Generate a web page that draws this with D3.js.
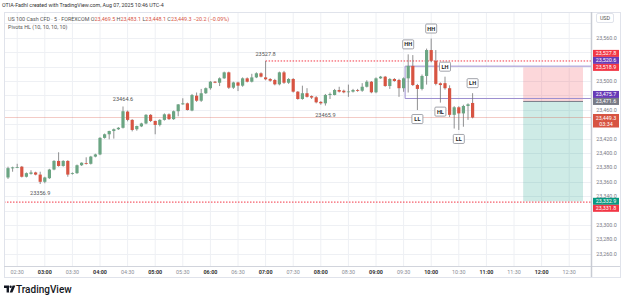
<!DOCTYPE html>
<html><head><meta charset="utf-8">
<script src="https://cdn.jsdelivr.net/npm/d3@7"></script>
<style>html,body{margin:0;padding:0;background:#fff;}svg{display:block;font-family:Roboto,"Liberation Sans",sans-serif;}</style>
</head><body><svg id="c" width="625" height="304"></svg>
<script>
// ---------- DATA ----------
const startTime = "2025-08-07T02:20:00Z"; // first bar (5-minute bars)
const opens = [23366,23378.7,23380,23381,23367,23371,23373,23370,23360,23365,23377,23389,23382,23389,23371,23372,23383,23386,23385,23395,
23398,23421,23426,23430.5,23433,23435,23457.5,23446,23433,23437,23441,23453,23444.5,23439,23446,23453.7,23447,23458,23467.6,23469,
23459,23479.6,23472.6,23483,23490,23499,23497.6,23503.7,23512,23490.7,23498,23493.5,23503.7,23499,23505,23510.7,23505,23502.8,23501.4,23495.4,
23512,23497.6,23502.8,23485.2,23475,23483,23479,23477.4,23471,23469,23480.6,23480.6,23487.5,23486.5,23485,23485.2,23487.5,23486.5,23492,23499,
23484.3,23503.7,23506,23493,23502.8,23501.4,23490,23503.7,23521,23494.4,23489,23507,23543,23528,23496.8,23497,23490,23453,23463.5,23455,
23465.3,23469.5];
const highs = [23381,23381,23385,23382,23373,23376,23374,23374,23367,23378,23390,23401,23390,23390,23373,23384,23387,23394,23396,23399,
23422,23427,23431,23434,23436,23464.6,23459,23447,23438,23442,23454,23454,23445,23447,23455,23455,23459,23468,23476,23470,
23482,23484,23489,23491,23500,23500,23505,23513,23513,23499,23499,23505,23505,23510,23512,23512,23527.8,23504,23503,23513,
23514,23504,23504,23486,23493.5,23490,23480,23479,23472,23482,23484,23489,23492,23488,23495,23489,23489,23497,23501,23500,
23505,23507,23507,23504,23504,23503,23505,23537,23536,23496,23509,23545,23559,23543,23498,23506,23494,23465,23465,23467,
23469,23483.1];
const lows = [23364,23374,23379,23366,23366,23370,23369,23356.9,23358,23364,23376,23381,23381,23367,23370,23371,23382,23384,23384,23394,
23397,23420,23419,23420,23432,23434,23444,23430,23431,23436,23440,23443,23426,23437,23445,23446,23446,23451,23467,23459,
23458,23471,23471,23482,23488,23497,23493,23503,23489,23489,23486,23492,23498,23498,23504,23505,23501,23499,23494,23494,
23496,23496,23484,23474,23474,23477,23475,23469,23467,23465.9,23475,23480,23484,23483,23478,23484,23485,23485,23491,23483,
23483,23503,23492,23489,23499,23478,23485,23484,23493,23459.7,23487,23495,23526,23494,23470,23488,23450,23434,23432,23436.5,
23446,23448.1];
const closes = [23379,23380,23380.5,23367,23372,23373,23370,23360,23366,23377,23389,23382,23389,23370,23372,23383,23386.5,23385,23395,23398,
23421,23426,23430.5,23433,23435,23458,23446,23432,23437.5,23441,23453,23444.5,23439,23446,23453.7,23447,23458,23467.5,23469,23459.7,
23480.5,23472.6,23483,23490,23499,23497.6,23503.7,23512,23490.7,23498,23493.5,23503.7,23499,23505,23510.7,23506,23502.4,23500.4,23495.4,23512,
23497.6,23502.8,23485.2,23475,23483,23478,23477,23470.4,23469,23480.6,23482,23487.5,23485.2,23484.3,23485.5,23487.5,23486.5,23492,23499,23484.3,
23503.7,23506,23493,23502.8,23500,23490,23503.7,23521,23494.4,23489,23507,23543,23528,23496,23494.4,23490,23453,23463.5,23455,23465.3,
23467.6,23449.3];

const timeTicks = ["02:30","03:00","03:30","04:00","04:30","05:00","05:30","06:00","06:30","07:00","07:30",
"08:00","08:30","09:00","09:30","10:00","10:30","11:00","11:30","12:00","12:30"];
const priceTicks = [23260,23280,23300,23320,23340,23360,23380,23400,23420,23440,23460,23480,23500,23520,23540,23560];

// pivot labels: bar index, kind
const pivotBars  = [87, 92, 95, 101, 89, 98, 94];
const pivotKinds = ["HH","HH","LH","LH","LL","LL","HL"];
// swing value annotations
const swingBars  = [25, 56, 7, 69];
const swingSide  = ["high","high","low","low"];

// levels
const pivotHigh = 23520.6, pivotLow = 23475.7, pivotStartBar = 86;
const swingLineHigh = 23527.8, swingLineHighBar = 56;
const swingLineLow = 23331.8;
const lastPrice = 23449.3, countdown = "03:34";
// short position tool
const posEntry = 23471.6, posStop = 23518.9, posTarget = 23332.9;
const posStart = "11:40", posEnd = "12:45";

// axis badges
const badgePrices = [23527.8, 23520.6, 23518.9, 23475.7, 23471.6, 23332.9, 23331.8];
const badgeKinds  = ["swing","pivot","stop","pivot","entry","target","swing"];

// ---------- DRAW ----------
const svg = d3.select("#c");
const W = 625, H = 304;
const L = 4, R = 591, T = 12, B = 266;
const UP = "#6BA583", DN = "#D75442", WICK = "#737375";
const kindColor = {swing:"#f23645", pivot:"#673ab7", stop:"#f23645", entry:"#787b86", target:"#089981"};

const t0 = new Date(startTime);
const barTime = i => d3.utcMinute.offset(t0, 5*i);
const dayT = s => { const [h,m]=s.split(":").map(Number); const d=new Date(t0); d.setUTCHours(h,m,0,0); return d; };
const x = d3.scaleUtc().domain([barTime(0), barTime(125)]).range([8, 583]);
const y = d3.scaleLinear().domain([23400, 23500]).range([153, 81]);

svg.append("rect").attr("width",W).attr("height",H).attr("fill","#fff");

// clip for plot
svg.append("clipPath").attr("id","pc").append("rect").attr("x",L).attr("y",T).attr("width",R-L).attr("height",B-T);
const g = svg.append("g").attr("clip-path","url(#pc)");

// grid
g.selectAll(".vg").data(timeTicks).join("line")
  .attr("x1",d=>x(dayT(d))).attr("x2",d=>x(dayT(d))).attr("y1",T).attr("y2",B)
  .attr("stroke","#eef0f4").attr("stroke-width",1);
g.selectAll(".hg").data(priceTicks.concat([23580])).join("line")
  .attr("x1",L).attr("x2",R).attr("y1",d=>Math.round(y(d))+0.5).attr("y2",d=>Math.round(y(d))+0.5)
  .attr("stroke","#eef0f4").attr("stroke-width",1);

// position tool
const px1 = x(dayT(posStart)), px2 = x(dayT(posEnd));
g.append("rect").attr("x",px1).attr("width",px2-px1).attr("y",y(posStop)).attr("height",y(posEntry)-y(posStop)).attr("fill","rgba(242,54,69,0.2)");
g.append("rect").attr("x",px1).attr("width",px2-px1).attr("y",y(posEntry)).attr("height",y(posTarget)-y(posEntry)).attr("fill","rgba(8,153,129,0.2)");
g.append("line").attr("x1",px1).attr("x2",px2).attr("y1",y(posEntry)).attr("y2",y(posEntry)).attr("stroke","#787b86").attr("stroke-width",1);

// last price line
g.append("line").attr("x1",L).attr("x2",R).attr("y1",y(lastPrice)).attr("y2",y(lastPrice)).attr("stroke",DN).attr("stroke-opacity",0.3).attr("stroke-width",1);

// dotted swing lines
g.append("line").attr("x1",x(barTime(swingLineHighBar))).attr("x2",R).attr("y1",y(swingLineHigh)).attr("y2",y(swingLineHigh))
  .attr("stroke","#f23645").attr("stroke-width",1).attr("stroke-dasharray","1.5,1.5");
g.append("line").attr("x1",L).attr("x2",R).attr("y1",y(swingLineLow)).attr("y2",y(swingLineLow))
  .attr("stroke","#f23645").attr("stroke-width",1).attr("stroke-dasharray","1.5,1.5");

// pivot range lines
const pvx = x(barTime(pivotStartBar)) + 1.5;
g.append("path").attr("d",`M${R},${y(pivotHigh)}H${pvx}V${y(pivotLow)}H${R}`)
  .attr("fill","none").attr("stroke","#9c8fd0").attr("stroke-width",1);

// candles
const idx = d3.range(closes.length);
const bw = 3.2;
g.selectAll(".wk").data(idx).join("line")
  .attr("x1",i=>x(barTime(i))).attr("x2",i=>x(barTime(i)))
  .attr("y1",i=>y(highs[i])).attr("y2",i=>y(lows[i]))
  .attr("stroke",WICK).attr("stroke-width",0.8);
g.selectAll(".bd").data(idx).join("rect")
  .attr("x",i=>x(barTime(i))-bw/2).attr("width",bw)
  .attr("y",i=>y(Math.max(opens[i],closes[i])))
  .attr("height",i=>Math.max(0.8, Math.abs(y(opens[i])-y(closes[i]))))
  .attr("fill",i=>closes[i]>=opens[i]?UP:DN);

// swing annotations
const fmt1 = d3.format(".1f");
g.selectAll(".sw").data(swingBars).join("text")
  .attr("x",b=>x(barTime(b))).attr("y",(b,k)=>swingSide[k]==="high"? y(highs[b])-5 : y(lows[b])+11)
  .attr("text-anchor","middle").attr("font-size",5.6).attr("fill","#555")
  .text((b,k)=>fmt1(swingSide[k]==="high"?highs[b]:lows[b]));

// pivot labels
const pv = g.selectAll(".pv").data(pivotBars).join("g")
  .attr("transform",(b,k)=>{
    const up = pivotKinds[k][1]==="H";
    const cy = up ? y(highs[b]) - 10 : y(lows[b]) + 9;
    return `translate(${x(barTime(b))},${cy})`;
  });
pv.append("rect").attr("x",-5.5).attr("y",-4.5).attr("width",11).attr("height",9).attr("rx",1)
  .attr("fill","#fff").attr("stroke","#8a8d96").attr("stroke-width",0.8);
pv.append("text").attr("text-anchor","middle").attr("dy",2).attr("font-size",5.6).attr("font-weight","bold")
  .attr("fill","#222").text((b,k)=>pivotKinds[k]);

// frame
svg.append("rect").attr("x",L+0.5).attr("y",T+0.5).attr("width",616).attr("height",265).attr("fill","none").attr("stroke","#e0e3eb").attr("stroke-width",1);
svg.append("line").attr("x1",L).attr("x2",620).attr("y1",B+0.5).attr("y2",B+0.5).attr("stroke","#d1d4dc");
svg.append("line").attr("x1",R+0.5).attr("x2",R+0.5).attr("y1",T).attr("y2",277).attr("stroke","#c8cbd3").attr("stroke-width",1.5);

// time labels
svg.selectAll(".tl").data(timeTicks).join("text")
  .attr("x",d=>x(dayT(d))).attr("y",273.5).attr("text-anchor","middle").attr("font-size",5.4)
  .attr("fill",d=>d.endsWith(":00")?"#333":"#8a8d96").attr("font-weight",d=>d.endsWith(":00")?"bold":"normal")
  .text(d=>d);

// badges layout
const yl = y(lastPrice);
const badges = badgePrices.map((p,i)=>({p, kind:badgeKinds[i], cy:y(p)}));
let lim = yl - 3.5;
badges.filter(b=>b.p>lastPrice).sort((a,b)=>a.p-b.p).forEach(b=>{ b.cy=Math.min(b.cy, lim-3.5); lim=b.cy-3.5; });
lim = yl + 10.5;
badges.filter(b=>b.p<lastPrice).sort((a,b)=>b.p-a.p).forEach(b=>{ b.cy=Math.max(b.cy, lim+3.5); lim=b.cy+3.5; });
const occupied = badges.map(b=>[b.cy-3.5,b.cy+3.5]).concat([[yl-3.5, yl+10.5]]);
const fmtP = d3.format(",.1f");

// price tick labels
svg.selectAll(".pl").data(priceTicks.filter(p=>{
    const ty=y(p); return !occupied.some(([a,b])=> Math.min(b,ty+2.5)-Math.max(a,ty-2.5) > 1);
  })).join("text")
  .attr("x",606.5).attr("y",p=>y(p)+2).attr("text-anchor","middle").attr("font-size",5.4).attr("fill","#787b86")
  .text(p=>fmtP(p));

// badges
const bg = svg.selectAll(".bg").data(badges).join("g").attr("transform",b=>`translate(593,${b.cy})`);
bg.append("rect").attr("x",0).attr("y",-3.5).attr("width",26).attr("height",7).attr("fill",b=>kindColor[b.kind]);
bg.append("text").attr("x",13).attr("y",2).attr("text-anchor","middle").attr("font-size",5.4).attr("fill","#fff").text(b=>fmtP(b.p));
const cg = svg.append("g").attr("transform",`translate(593,${yl})`);
cg.append("rect").attr("x",0).attr("y",-3.5).attr("width",26).attr("height",13.5).attr("fill",DN);
cg.append("text").attr("x",13).attr("y",2).attr("text-anchor","middle").attr("font-size",5.4).attr("fill","#fff").text(fmtP(lastPrice));
cg.append("text").attr("x",13).attr("y",8).attr("text-anchor","middle").attr("font-size",5.4).attr("fill","#fff").text(countdown);

// USD box
svg.append("rect").attr("x",596.5).attr("y",13.5).attr("width",17).attr("height",9).attr("rx",1.5).attr("fill","#fff").attr("stroke","#e0e3eb");
svg.append("text").attr("x",605).attr("y",20).attr("text-anchor","middle").attr("font-size",5.4).attr("fill","#555").text("USD");

// header
svg.append("text").attr("x",2).attr("y",7).attr("font-size",5.3).attr("fill","#333")
  .text("OTIA-Fadhl created with TradingView.com, Aug 07, 2025 10:46 UTC-4");
const h2 = svg.append("text").attr("x",8).attr("y",20.5).attr("font-size",5.4).attr("fill","#555");
h2.append("tspan").text("US 100 Cash CFD · 5 · FOREXCOM  ");
const ohlc = [["O",opens[101]],["H",highs[101]],["L",lows[101]],["C",closes[101]]];
ohlc.forEach(([k,v])=>{ h2.append("tspan").attr("fill","#555").text(" "+k); h2.append("tspan").attr("fill",DN).text(fmtP(v)); });
const chg = closes[101]-closes[100]-(-(opens[101]-closes[100])) ; // placeholder not used
h2.append("tspan").attr("fill",DN).text("  −20.2 (−0.09%)");
svg.append("text").attr("x",8).attr("y",28.5).attr("font-size",5.4).attr("fill","#555").text("Pivots HL (10, 10, 10, 10)");

// TradingView logo
const lg = svg.append("g").attr("transform","translate(4,285.5)").attr("fill","#131722");
lg.append("path").attr("d","M0,0H5V7H2.6V2.4H0Z");
lg.append("circle").attr("cx",6.6).attr("cy",1.2).attr("r",1.2);
lg.append("path").attr("d","M8.6,0H11.4L8.4,7H5.7Z");
svg.append("text").attr("x",16).attr("y",292.5).attr("font-size",10).attr("font-weight",500).attr("fill","#131722").text("TradingView");
</script></body></html>
